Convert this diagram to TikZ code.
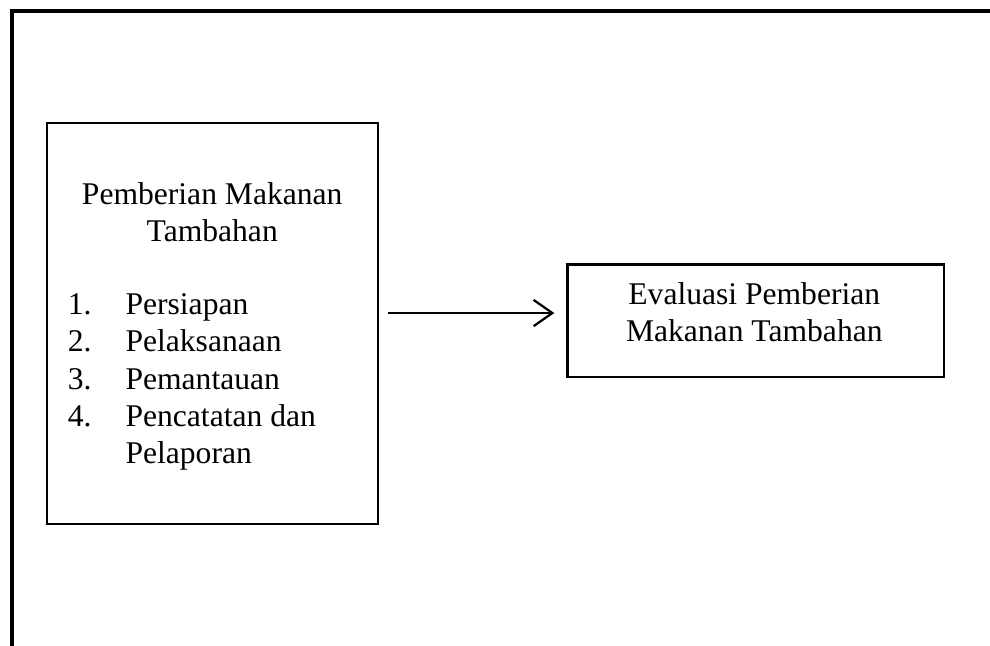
\documentclass[tikz,border=0pt]{standalone}
\usepackage{fontspec}
\setmainfont{Liberation Serif}
\usepackage{tikz}
\usetikzlibrary{arrows.meta, positioning}

\begin{document}
\begin{tikzpicture}[
  every node/.style={font=\fontsize{12}{14}\selectfont, inner sep=0pt},
  box/.style={draw, line width=0.9pt, fill=white},
  frame/.style={line width=1.6pt},
  arr/.style={-{Straight Barb[length=2.5mm, width=3.5mm]}, line width=0.85pt},
]
  \useasboundingbox (0,0) rectangle (13.217,-8.624);
  \draw[frame] (0.160,-8.624) -- (0.160,-0.147) -- (13.217,-0.147);

  \node[box, minimum width=4.427cm, minimum height=5.357cm] (pmt)  at (2.837,-4.317) {};
  \node[box, minimum width=5.026cm, minimum height=1.502cm] (eval) at (10.089,-4.282) {};

  % base of a two-line node sits on its last line
  \node[align=center, anchor=base] (judul) at (2.833,-3.227) {Pemberian Makanan\\Tambahan};
  \foreach \n/\tahap in {1/Persiapan, 2/Pelaksanaan, 3/Pemantauan, 4/Pencatatan dan} {
    \node[anchor=base west] (no\n)    at (0.898,{-4.197-0.4993*(\n-1)}) {\n.};
    \node[anchor=base west] (tahap\n) at (1.669,{-4.197-0.4993*(\n-1)}) {\tahap};
  }
  \node[anchor=base west] (tahap5) at (1.669,-6.194) {Pelaporan};

  \node[align=center, anchor=base] (judulev) at (10.07,-4.562) {Evaluasi Pemberian\\Makanan Tambahan};

  \draw[arr] ([xshift=0.115cm, yshift=0.138cm]pmt.east) -- ([xshift=-0.16cm, yshift=0.103cm]eval.west);
\end{tikzpicture}
\end{document}
